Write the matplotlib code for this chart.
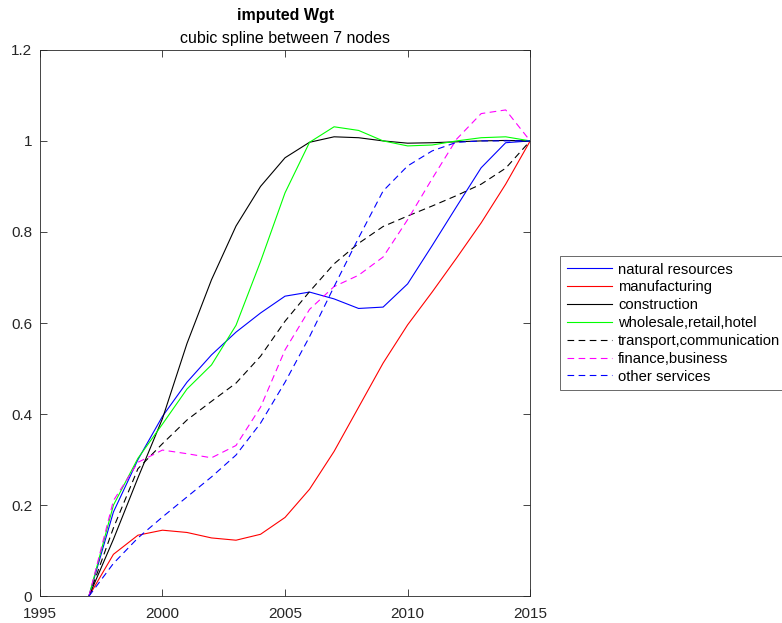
import matplotlib.pyplot as plt

plt.rcParams['font.family'] = ['Liberation Sans', 'DejaVu Sans']

years = list(range(1997, 2016))

natural_resources = [0, 0.185, 0.30, 0.395, 0.47, 0.53, 0.58, 0.622, 0.659, 0.668,
                     0.653, 0.632, 0.635, 0.686, 0.77, 0.856, 0.941, 0.996, 1.0]
manufacturing = [0, 0.092, 0.134, 0.145, 0.140, 0.128, 0.123, 0.136, 0.173, 0.235,
                 0.318, 0.415, 0.512, 0.596, 0.668, 0.743, 0.82, 0.905, 1.0]
construction = [0, 0.125, 0.26, 0.39, 0.555, 0.695, 0.813, 0.900, 0.963, 0.997,
                1.009, 1.007, 1.0, 0.995, 0.996, 0.998, 1.0, 1.001, 1.0]
wholesale = [0, 0.20, 0.303, 0.378, 0.455, 0.508, 0.595, 0.735, 0.886, 0.997,
             1.031, 1.023, 1.0, 0.989, 0.991, 1.0, 1.007, 1.009, 1.0]
transport = [0, 0.15, 0.28, 0.335, 0.387, 0.428, 0.468, 0.527, 0.604, 0.669,
             0.73, 0.775, 0.812, 0.835, 0.857, 0.88, 0.905, 0.94, 1.0]
finance = [0, 0.21, 0.294, 0.321, 0.313, 0.304, 0.331, 0.415, 0.541, 0.630,
           0.68, 0.705, 0.745, 0.827, 0.917, 1.004, 1.06, 1.068, 1.0]
other_services = [0, 0.072, 0.128, 0.174, 0.218, 0.262, 0.31, 0.38, 0.47, 0.57,
                  0.68, 0.787, 0.89, 0.945, 0.978, 0.997, 1.0, 1.0, 1.0]

series = [
    (natural_resources, 'natural resources', (0, 0, 1), '-'),
    (manufacturing, 'manufacturing', (1, 0, 0), '-'),
    (construction, 'construction', (0, 0, 0), '-'),
    (wholesale, 'wholesale,retail,hotel', (0, 1, 0), '-'),
    (transport, 'transport,communication', (0, 0, 0), (0, (6, 4))),
    (finance, 'finance,business', (1, 0, 1), (0, (6, 4))),
    (other_services, 'other services', (0, 0, 1), (0, (6, 4))),
]

fig = plt.figure(figsize=(7.82, 6.23), dpi=100)
ax = fig.add_axes([0.051, 0.043, 0.627, 0.877])

for vals, name, col, ls in series:
    ax.plot(years, vals, color=col, linestyle=ls, linewidth=0.8, label=name)

ax.set_xlim(1995, 2015)
ax.set_ylim(0, 1.2)
ax.set_xticks([1995, 2000, 2005, 2010, 2015])
ax.set_yticks([0, 0.2, 0.4, 0.6, 0.8, 1.0, 1.2])
ax.set_yticklabels(['0', '0.2', '0.4', '0.6', '0.8', '1', '1.2'])
ax.tick_params(direction='in', top=True, right=True, labelsize=11,
               length=5, width=0.6, color='#262626', labelcolor='#262626')
ax.tick_params(axis='x', pad=7.5)
ax.tick_params(axis='y', pad=5.5)
for s in ax.spines.values():
    s.set_color('#262626')
    s.set_linewidth(0.6)

fig.text(0.365, 0.975, 'imputed Wgt', ha='center', va='center',
         fontsize=11.5, fontweight='bold')
fig.text(0.365, 0.939, 'cubic spline between 7 nodes', ha='center', va='center',
         fontsize=11.5)

leg = ax.legend(loc='upper left', bbox_to_anchor=(560 / 782, 1 - 256 / 623),
                bbox_transform=fig.transFigure, fontsize=10.6, frameon=True,
                fancybox=False, borderpad=0.45, labelspacing=0.26,
                handlelength=3.1, handletextpad=0.4, borderaxespad=0)
leg.get_frame().set_edgecolor('#262626')
leg.get_frame().set_linewidth(0.6)

fig.savefig('out.png', dpi=100)
